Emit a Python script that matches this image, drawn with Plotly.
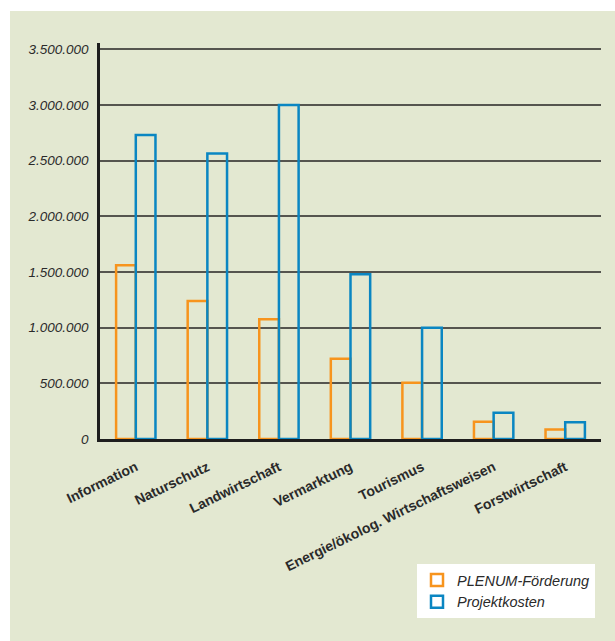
import plotly.graph_objects as go

categories = ["Information", "Naturschutz", "Landwirtschaft", "Vermarktung",
              "Tourismus", "Energie/ökolog. Wirtschaftsweisen", "Forstwirtschaft"]
plenum_foerderung = [1560000, 1240000, 1075000, 720000, 505000, 155000, 85000]
projektkosten = [2730000, 2565000, 3000000, 1480000, 1000000, 235000, 150000]
y_tickvals = [0, 500000, 1000000, 1500000, 2000000, 2500000, 3000000, 3500000]
y_ticktext = ["0", "500.000", "1.000.000", "1.500.000", "2.000.000",
              "2.500.000", "3.000.000", "3.500.000"]
major_grid = [1000000, 2000000, 3000000]
separators_pos = [0.5, 1.5, 2.5, 3.5, 4.5, 5.5]

W, H = 615, 641
pw, ph = 501, 396
L, T = 100, 43
R, B = W - L - pw, H - T - ph

BG = "#e3e8d1"
ORANGE = "#f7941d"
BLUE = "#0a86c2"
TXT = "#2a2a2a"
FONT = "Liberation Sans, Arial, sans-serif"

fig = go.Figure()
fig.add_trace(go.Bar(x=categories, y=plenum_foerderung, name="PLENUM-Förderung",
                     marker=dict(color="rgba(0,0,0,0)", line=dict(color=ORANGE, width=2.5))))
fig.add_trace(go.Bar(x=categories, y=projektkosten, name="Projektkosten",
                     marker=dict(color="rgba(0,0,0,0)", line=dict(color=BLUE, width=2.5))))

ymax = 3557000

fig.update_layout(
    width=W, height=H,
    margin=dict(l=L, r=R, t=T, b=B),
    paper_bgcolor="white",
    plot_bgcolor=BG,
    barmode="group", bargap=0.45, bargroupgap=0,
    font=dict(family=FONT, color=TXT),
    xaxis=dict(type="category", range=[-0.5, 6.5], showgrid=False,
               showline=True, linecolor="#1e1e1e", linewidth=2.5,
               ticks="", tickangle=-26, ticklabelstandoff=12,
               tickfont=dict(family=FONT, size=14, weight="bold", color=TXT)),
    xaxis2=dict(overlaying="x", anchor="y", side="bottom", range=[-0.5, 6.5],
                tickmode="array", tickvals=separators_pos, showticklabels=False,
                ticks="inside", ticklen=15, tickwidth=2.5, tickcolor="#1e1e1e",
                showgrid=False, showline=False, zeroline=False),
    yaxis=dict(range=[0, ymax], tickmode="array", tickvals=y_tickvals, ticktext=y_ticktext,
               showgrid=True, gridcolor="#55554f", gridwidth=2,
               showline=True, linecolor="#1e1e1e", linewidth=2.5,
               zeroline=False, ticks="", ticklabelstandoff=6,
               tickfont=dict(family=FONT, size=13.5, style="italic", color=TXT)),
    yaxis2=dict(overlaying="y", range=[0, ymax], tickmode="array", tickvals=major_grid,
                showticklabels=False, showgrid=True, gridcolor="#1e1e1e", gridwidth=2.5,
                showline=False, zeroline=False, ticks=""),
    legend=dict(x=(417 - L) / pw, y=(439 - 564) / ph, xanchor="left", yanchor="top",
                bgcolor="white", borderwidth=0,
                font=dict(family=FONT, size=14.5, style="italic", color=TXT),
                tracegroupgap=0),
    showlegend=True,
    shapes=[dict(type="rect", xref="paper", yref="paper",
                 x0=(10 - L) / pw, x1=(W - L) / pw + 0.05,
                 y0=-(B) / ph - 0.05, y1=(439 - 11) / ph,
                 fillcolor=BG, line=dict(width=0), layer="below")],
)

fig.write_html("out.html",
               config={"displayModeBar": False},
               post_script="document.body.style.margin='0';document.body.style.overflow='hidden';")
